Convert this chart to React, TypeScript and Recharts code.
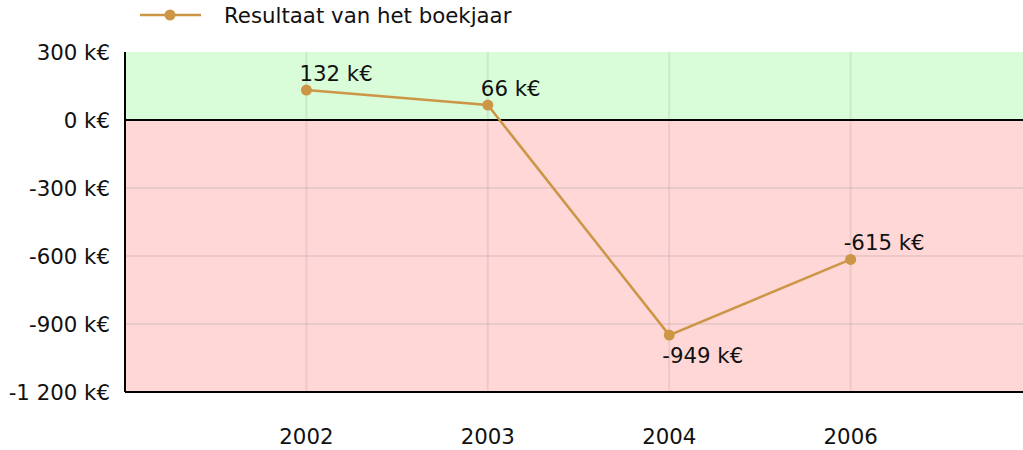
import React from 'react';
import {
  LineChart,
  Line,
  XAxis,
  YAxis,
  ReferenceArea,
  ReferenceLine,
  Legend,
  LabelList,
} from 'recharts';

const categories = ['2002', '2003', '2004', '2006'];
const positions = [1, 2, 3, 4];
const results = [132, 66, -949, -615];
const yTicks = [-1200, -900, -600, -300, 0, 300];
const seriesName = 'Resultaat van het boekjaar';

const data = categories.map((c, i) => ({ x: positions[i], year: c, value: results[i] }));

const LINE_COLOR = '#cc9646';
const FONT = '"DejaVu Sans", Verdana, sans-serif';
const FS = 21.3;
const GRID = 'rgba(120,120,120,0.14)';

const fmtK = (v: number) => {
  const abs = Math.abs(v);
  const s = abs >= 1000 ? `${Math.floor(abs / 1000)} ${String(abs % 1000).padStart(3, '0')}` : String(abs);
  return `${v < 0 ? '-' : ''}${s} k€`;
};

const PointLabel = (props: any) => {
  const { x, y, index } = props;
  const v = results[index];
  const prev = index > 0 ? results[index - 1] : Infinity;
  const next = index < results.length - 1 ? results[index + 1] : Infinity;
  const below = v < prev && v < next;
  return (
    <text
      x={x - 7}
      y={below ? y + 28 : y - 9}
      fontFamily={FONT}
      fontSize={FS}
      fill="#111"
      textAnchor="start"
    >
      {fmtK(v)}
    </text>
  );
};

const LegendContent = () => (
  <div style={{ height: 40, width: 600, position: 'relative' }}>
    <svg width={600} height={40} style={{ position: 'absolute', left: 0, top: 0 }}>
      <line x1={140} y1={15} x2={201} y2={15} stroke={LINE_COLOR} strokeWidth={2.5} />
      <circle cx={170} cy={15} r={5.5} fill={LINE_COLOR} />
      <text x={224} y={23} fontFamily={FONT} fontSize={FS} fill="#111">
        {seriesName}
      </text>
    </svg>
  </div>
);

export default function App() {
  return (
    <div style={{ position: 'absolute', left: 0, top: 0 }}>
      <LineChart width={1023} height={450} data={data} margin={{ top: 12, right: 0, bottom: 0, left: 0 }}>
        <Legend
          verticalAlign="top"
          align="left"
          content={<LegendContent />}
          wrapperStyle={{ top: 0, left: 0, width: 600, height: 40 }}
        />
        <XAxis
          type="number"
          dataKey="x"
          domain={[0, 4.95]}
          ticks={positions}
          tickFormatter={(v: number) => categories[positions.indexOf(v)] ?? ''}
          tickLine={false}
          tickSize={0}
          tickMargin={37}
          height={58}
          axisLine={{ stroke: '#000', strokeWidth: 2 }}
          tick={{ fontFamily: FONT, fontSize: FS, fill: '#111' }}
        />
        <YAxis
          type="number"
          domain={[-1200, 300]}
          ticks={yTicks}
          tickFormatter={fmtK}
          width={125}
          tickLine={false}
          tickSize={0}
          tickMargin={15}
          axisLine={{ stroke: '#000', strokeWidth: 2 }}
          tick={{ fontFamily: FONT, fontSize: FS, fill: '#111' }}
        />
        <ReferenceArea y1={0} y2={300} fill="#d8fdd8" fillOpacity={1} stroke="none" ifOverflow="hidden" />
        <ReferenceArea y1={-1200} y2={0} fill="#ffd7d7" fillOpacity={1} stroke="none" ifOverflow="hidden" />
        {positions.map((p) => (
          <ReferenceLine key={`vx${p}`} x={p} stroke={GRID} strokeWidth={2} />
        ))}
        {yTicks
          .filter((t) => t !== 0 && t !== 300 && t !== -1200)
          .map((t) => (
            <ReferenceLine key={`hy${t}`} y={t} stroke={GRID} strokeWidth={2} />
          ))}
        <ReferenceLine y={0} stroke="#000" strokeWidth={2} />
        <Line
          type="linear"
          dataKey="value"
          name={seriesName}
          stroke={LINE_COLOR}
          strokeWidth={2.5}
          dot={{ r: 5.5, fill: LINE_COLOR, stroke: LINE_COLOR, strokeWidth: 0 }}
          activeDot={false}
          isAnimationActive={false}
        >
          <LabelList dataKey="value" content={<PointLabel />} />
        </Line>
      </LineChart>
    </div>
  );
}
